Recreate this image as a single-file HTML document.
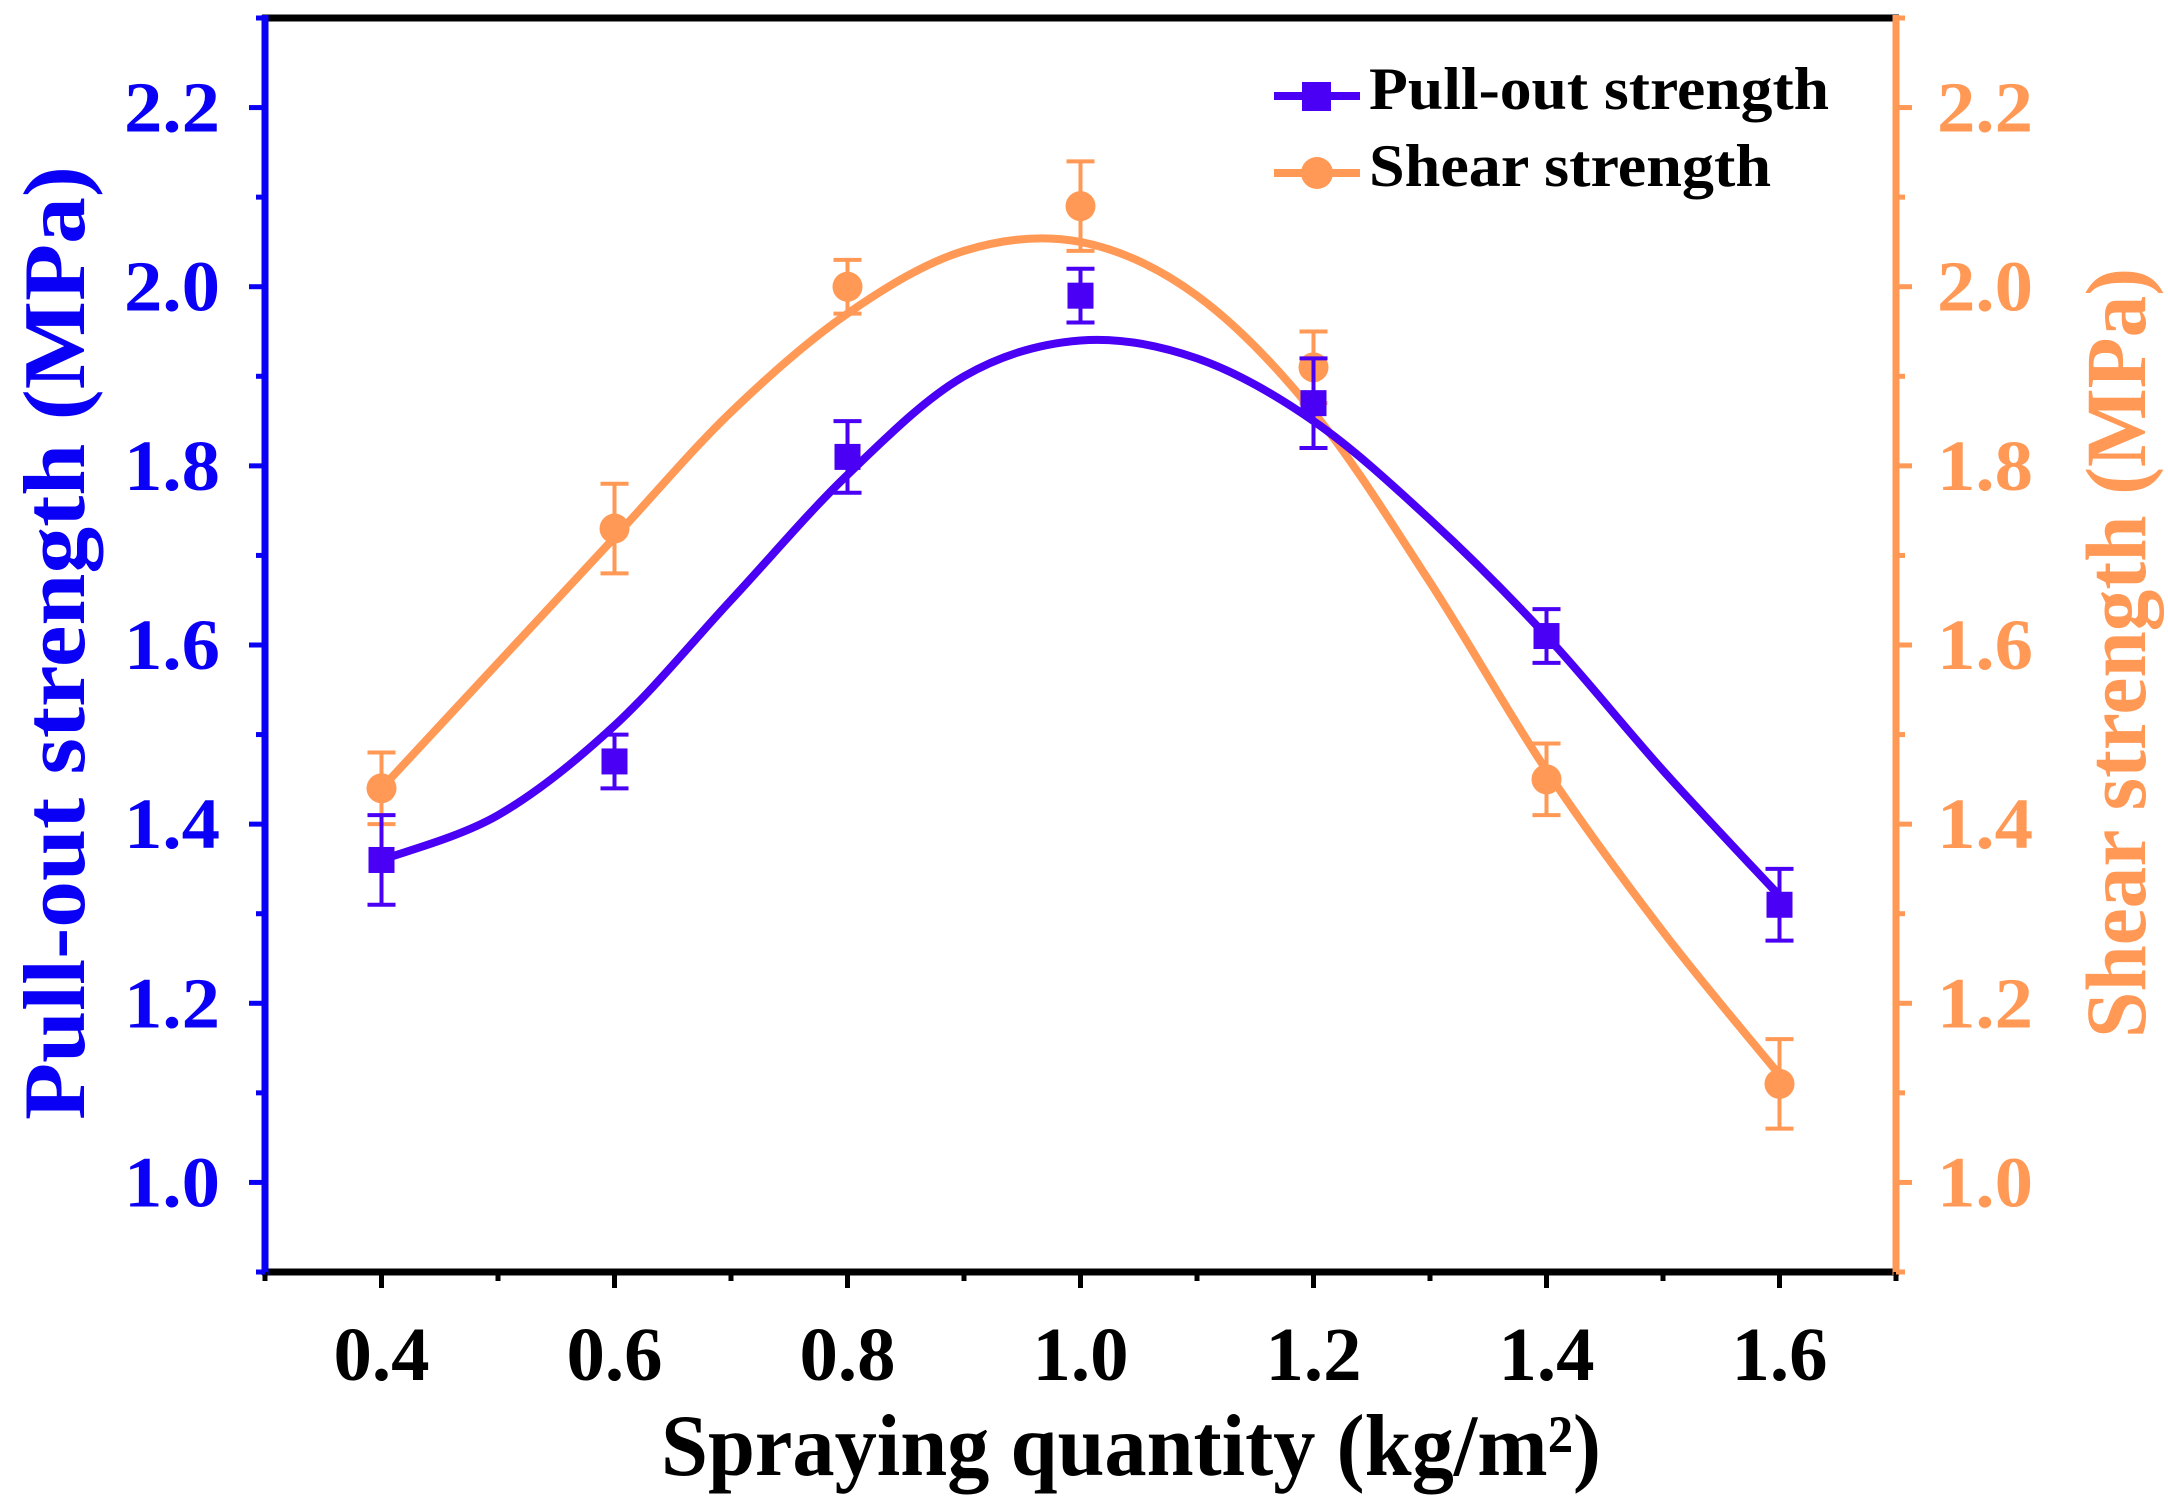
<!DOCTYPE html>
<html><head><meta charset="utf-8"><style>
html,body{margin:0;padding:0;background:#fff;}
svg{display:block;font-family:"Liberation Serif",serif;font-weight:bold;}
</style></head><body>
<svg id="chart" width="2168" height="1508" viewBox="0 0 2168 1508" xmlns="http://www.w3.org/2000/svg">
<g id="plot"></g>
</svg>
<script>
const xCats = [0.4, 0.6, 0.8, 1.0, 1.2, 1.4, 1.6];
const pullVals = [1.36, 1.47, 1.81, 1.99, 1.87, 1.61, 1.31];
const pullErr = [0.05, 0.03, 0.04, 0.03, 0.05, 0.03, 0.04];
const shearVals = [1.44, 1.73, 2.00, 2.09, 1.91, 1.45, 1.11];
const shearErr = [0.04, 0.05, 0.03, 0.05, 0.04, 0.04, 0.05];
const fitX = [0.4, 0.5, 0.6, 0.7, 0.8, 0.9, 1.0, 1.1, 1.2, 1.3, 1.4, 1.5, 1.6];
const pullFit = [1.36, 1.41, 1.51, 1.65, 1.79, 1.90, 1.94, 1.92, 1.85, 1.74, 1.61, 1.46, 1.32];
const shearFit = [1.44, 1.58, 1.72, 1.86, 1.97, 2.04, 2.05, 1.99, 1.86, 1.67, 1.46, 1.28, 1.12];
const xTicks = ["0.4", "0.6", "0.8", "1.0", "1.2", "1.4", "1.6"];
const yTicks = ["1.0", "1.2", "1.4", "1.6", "1.8", "2.0", "2.2"];

const L = 265, R = 1896, T = 18, B = 1272;
const X0 = 0.3, X1 = 1.7, Y0 = 0.9, Y1 = 2.3;
const sx = v => L + (v - X0) / (X1 - X0) * (R - L);
const sy = v => B - (v - Y0) / (Y1 - Y0) * (B - T);
const BLUE = "#0a00f5", PURP = "#4a00f5", ORG = "#ff9955";
const NS = "http://www.w3.org/2000/svg";
const g = document.getElementById("plot");
function mk(tag, attrs, parent) {
  const e = document.createElementNS(NS, tag);
  for (const k in attrs) e.setAttribute(k, attrs[k]);
  (parent || g).appendChild(e);
  return e;
}
function smooth(xs, ys) {
  const p = xs.map((x, i) => [sx(x), sy(ys[i])]);
  let d = "M" + p[0][0] + "," + p[0][1];
  for (let i = 0; i < p.length - 1; i++) {
    const p0 = p[Math.max(0, i - 1)], p1 = p[i], p2 = p[i + 1], p3 = p[Math.min(p.length - 1, i + 2)];
    const c1 = [p1[0] + (p2[0] - p0[0]) / 6, p1[1] + (p2[1] - p0[1]) / 6];
    const c2 = [p2[0] - (p3[0] - p1[0]) / 6, p2[1] - (p3[1] - p1[1]) / 6];
    d += " C" + c1 + " " + c2 + " " + p2;
  }
  return d;
}
let e;
e = mk("line", {x1: L - 3, y1: T, x2: R + 3, y2: T, stroke: "#000", "stroke-width": 7});


e = mk("line", {x1: L - 3, y1: B, x2: R + 3, y2: B, stroke: "#000", "stroke-width": 7});


e = mk("line", {x1: L, y1: T - 3, x2: L, y2: B + 3, stroke: BLUE, "stroke-width": 7});


e = mk("line", {x1: R, y1: T - 3, x2: R, y2: B + 3, stroke: ORG, "stroke-width": 7});


for (let v = 3; v <= 17; v++) {
  const x = sx(v / 10), major = v % 2 === 0;
  e = mk("line", {x1: x, y1: B, x2: x, y2: B + (major ? 16 : 9), stroke: "#000", "stroke-width": 5});
  
  
}
xCats.forEach((c, i) => {
  e = mk("text", {x: sx(c), y: 1380, "text-anchor": "middle", "font-size": 76, fill: "#000", textLength: 96, lengthAdjust: "spacingAndGlyphs"});
  e.textContent = xTicks[i];
  
  
});
for (let v = 9; v <= 23; v++) {
  const y = sy(v / 10), major = v % 2 === 0;
  e = mk("line", {x1: L, y1: y, x2: L - (major ? 16 : 9), y2: y, stroke: BLUE, "stroke-width": 5});
  
  
  e = mk("line", {x1: R, y1: y, x2: R + (major ? 16 : 9), y2: y, stroke: ORG, "stroke-width": 5});
  
  
}
yTicks.forEach(t => {
  const y = sy(parseFloat(t)) + 24;
  e = mk("text", {x: 220, y: y, "text-anchor": "end", "font-size": 72, fill: BLUE, textLength: 96, lengthAdjust: "spacingAndGlyphs"});
  e.textContent = t;
  
  
  e = mk("text", {x: 1937, y: y, "text-anchor": "start", "font-size": 72, fill: ORG, textLength: 96, lengthAdjust: "spacingAndGlyphs"});
  e.textContent = t;
  
  
});
e = mk("text", {x: 1131, y: 1475, "text-anchor": "middle", "font-size": 88, fill: "#000", textLength: 940, lengthAdjust: "spacingAndGlyphs"});
e.innerHTML = "Spraying quantity (kg/m²)";


e = mk("text", {x: 0, y: 0, "text-anchor": "middle", "font-size": 88, fill: BLUE, textLength: 954, lengthAdjust: "spacingAndGlyphs", transform: "translate(84,643) rotate(-90)"});
e.textContent = "Pull-out strength (MPa)";


e = mk("text", {x: 0, y: 0, "text-anchor": "middle", "font-size": 86, fill: ORG, textLength: 770, lengthAdjust: "spacingAndGlyphs", transform: "translate(2145,653) rotate(-90)"});
e.textContent = "Shear strength (MPa)";


e = mk("path", {d: smooth(fitX, shearFit), fill: "none", stroke: ORG, "stroke-width": 8});


e = mk("path", {d: smooth(fitX, pullFit), fill: "none", stroke: PURP, "stroke-width": 8});


function errbar(x, v, er, col, name) {
  const X = sx(x), a = sy(v + er), b = sy(v - er);
  const grp = mk("g", {stroke: col, "stroke-width": 4});
  
  
  mk("line", {x1: X, y1: a, x2: X, y2: b}, grp);
  mk("line", {x1: X - 14, y1: a, x2: X + 14, y2: a}, grp);
  mk("line", {x1: X - 14, y1: b, x2: X + 14, y2: b}, grp);
}
xCats.forEach((c, i) => {
  errbar(c, shearVals[i], shearErr[i], ORG, 'shear-error-bar');
  e = mk("circle", {cx: sx(c), cy: sy(shearVals[i]), r: 15, fill: ORG});
  
  
});
xCats.forEach((c, i) => {
  errbar(c, pullVals[i], pullErr[i], PURP, 'pull-out-error-bar');
  e = mk("rect", {x: sx(c) - 13, y: sy(pullVals[i]) - 13, width: 26, height: 26, fill: PURP});
  
  
});
const lg = mk("g", {});


e = mk("line", {x1: 1274, y1: 96, x2: 1360, y2: 96, stroke: PURP, "stroke-width": 8}, lg);


e = mk("rect", {x: 1302, y: 82, width: 29, height: 29, fill: PURP}, lg);


e = mk("text", {x: 1369, y: 109, "font-size": 60, fill: "#000", textLength: 460, lengthAdjust: "spacingAndGlyphs"}, lg);
e.textContent = "Pull-out strength";


e = mk("line", {x1: 1274, y1: 173, x2: 1360, y2: 173, stroke: ORG, "stroke-width": 8}, lg);


e = mk("circle", {cx: 1317, cy: 173, r: 16, fill: ORG}, lg);


e = mk("text", {x: 1369, y: 186, "font-size": 60, fill: "#000", textLength: 402, lengthAdjust: "spacingAndGlyphs"}, lg);
e.textContent = "Shear strength";


</script>
</body></html>
